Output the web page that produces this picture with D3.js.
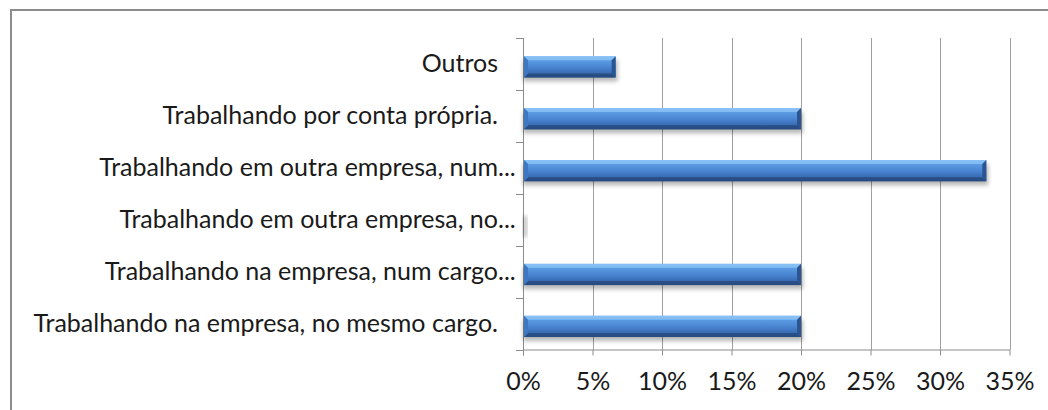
<!DOCTYPE html>
<html>
<head>
<meta charset="utf-8">
<script src="https://cdn.jsdelivr.net/npm/d3@7"></script>
<style>
  html, body { margin: 0; padding: 0; background: #fff; }
  svg { display: block; }
  text { font-family: Lato, "Open Sans", sans-serif; fill: #1a1a1a; }
</style>
</head>
<body>
<svg id="chart" width="1048" height="410"></svg>
<script>
// Situação atual dos respondentes (share of answers)
const categories = [
  "Outros",
  "Trabalhando por conta própria.",
  "Trabalhando em outra empresa, num…",
  "Trabalhando em outra empresa, no…",
  "Trabalhando na empresa, num cargo…",
  "Trabalhando na empresa, no mesmo cargo."
];
const shares = [1 / 15, 3 / 15, 5 / 15, 0, 3 / 15, 3 / 15];
const tickValues = [0, 0.05, 0.10, 0.15, 0.20, 0.25, 0.30, 0.35];

const svg = d3.select("#chart");
const m = { left: 523, right: 1009.5, top: 38, bottom: 349.5 };
const labelRight = 498;
const fontSize = 25;

const defs = svg.append("defs");
const grad = defs.append("linearGradient")
  .attr("id", "barFill").attr("x1", 0).attr("y1", 0).attr("x2", 0).attr("y2", 1);
[["0%", "#7db8f2"], ["22%", "#5a9ae2"], ["50%", "#4a86d2"], ["78%", "#3a6db6"], ["100%", "#2c5793"]]
  .forEach(([o, c]) => grad.append("stop").attr("offset", o).attr("stop-color", c));
const blur = defs.append("filter").attr("id", "shadow")
  .attr("x", "-10%").attr("y", "-50%").attr("width", "120%").attr("height", "200%");
blur.append("feGaussianBlur").attr("stdDeviation", 2.2);

// outer chart frame
svg.append("rect")
  .attr("x", 11).attr("y", 10).attr("width", 1100).attr("height", 500)
  .attr("fill", "none").attr("stroke", "#8c8c8c").attr("stroke-width", 2);

const x = d3.scaleLinear().domain([0, 0.35]).range([m.left, m.right]);
const yb = d3.scaleBand().domain(categories).range([m.top, m.bottom]);
const barTop = c => yb(c) + yb.bandwidth() * 0.35;
const barH = yb.bandwidth() * 0.41;

// vertical gridlines
svg.append("g").selectAll("line").data(tickValues.slice(1)).join("line")
  .attr("x1", d => Math.round(x(d)) + 0.5).attr("x2", d => Math.round(x(d)) + 0.5)
  .attr("y1", m.top).attr("y2", m.bottom)
  .attr("stroke", "#a0a0a0").attr("stroke-width", 1);

// x axis
const xAxis = svg.append("g")
  .attr("transform", `translate(0,${m.bottom})`)
  .call(d3.axisBottom(x).tickValues(tickValues).tickFormat(d3.format(".0%")).tickSizeInner(6).tickSizeOuter(0).tickPadding(17));
xAxis.select(".domain").attr("stroke", "#8c8c8c");
xAxis.selectAll(".tick line").attr("stroke", "#8c8c8c");
xAxis.selectAll("text").attr("font-size", fontSize).attr("fill", "#1a1a1a")
  .style("font-family", "Lato, 'Open Sans', sans-serif");

// y axis: ticks at category boundaries
const yAxisG = svg.append("g");
yAxisG.append("line")
  .attr("x1", m.left + 0.5).attr("x2", m.left + 0.5)
  .attr("y1", m.top).attr("y2", m.bottom + 6).attr("stroke", "#8c8c8c");
yAxisG.selectAll("line.tk").data(d3.range(categories.length + 1)).join("line")
  .attr("class", "tk")
  .attr("x1", m.left - 7).attr("x2", m.left)
  .attr("y1", i => Math.round(m.top + i * yb.step()) + 0.5)
  .attr("y2", i => Math.round(m.top + i * yb.step()) + 0.5)
  .attr("stroke", "#8c8c8c");

// category labels; a trailing ellipsis hangs past the label edge
const lab = yAxisG.selectAll("g.lab").data(categories).join("g").attr("class", "lab")
  .attr("transform", d => `translate(${labelRight},${yb(d) + yb.bandwidth() / 2 + 8})`);
lab.append("text")
  .attr("text-anchor", "end")
  .attr("font-size", fontSize)
  .text(d => d.replace(/…$/, ""));
lab.filter(d => d.endsWith("…")).append("text")
  .attr("text-anchor", "start")
  .attr("font-size", fontSize)
  .text("...");

// bars with bevelled edges
const bars = svg.append("g").selectAll("g").data(categories.map((c, i) => ({ c, v: shares[i] }))).join("g");
bars.append("rect")
  .attr("x", m.left).attr("y", d => barTop(d.c) + 4)
  .attr("width", d => Math.max(4, x(d.v) - m.left + 2)).attr("height", barH)
  .attr("fill", "#000").attr("opacity", 0.28).attr("filter", "url(#shadow)");
const drawn = bars.filter(d => d.v > 0);
drawn.append("rect")
  .attr("x", m.left + 1).attr("y", d => barTop(d.c))
  .attr("width", d => x(d.v) - m.left - 1).attr("height", barH)
  .attr("fill", "url(#barFill)");
const b = 4;
function poly(pts) { return pts.map(p => p.join(",")).join(" "); }
drawn.append("polygon") // top bevel
  .attr("points", d => { const x0 = m.left + 1, x1 = x(d.v), y0 = barTop(d.c);
    return poly([[x0, y0], [x1, y0], [x1 - b, y0 + b], [x0 + b, y0 + b]]); })
  .attr("fill", "#8cc4f7").attr("opacity", 0.75);
drawn.append("polygon") // bottom bevel
  .attr("points", d => { const x0 = m.left + 1, x1 = x(d.v), y1 = barTop(d.c) + barH;
    return poly([[x0, y1], [x1, y1], [x1 - b, y1 - b], [x0 + b, y1 - b]]); })
  .attr("fill", "#26497c").attr("opacity", 0.8);
drawn.append("polygon") // left bevel
  .attr("points", d => { const x0 = m.left + 1, y0 = barTop(d.c), y1 = y0 + barH;
    return poly([[x0, y0], [x0 + b, y0 + b], [x0 + b, y1 - b], [x0, y1]]); })
  .attr("fill", "#3f78c2");
drawn.append("polygon") // right bevel
  .attr("points", d => { const x1 = x(d.v), y0 = barTop(d.c), y1 = y0 + barH;
    return poly([[x1, y0], [x1 - b, y0 + b], [x1 - b, y1 - b], [x1, y1]]); })
  .attr("fill", "#2b5592");
</script>
</body>
</html>
